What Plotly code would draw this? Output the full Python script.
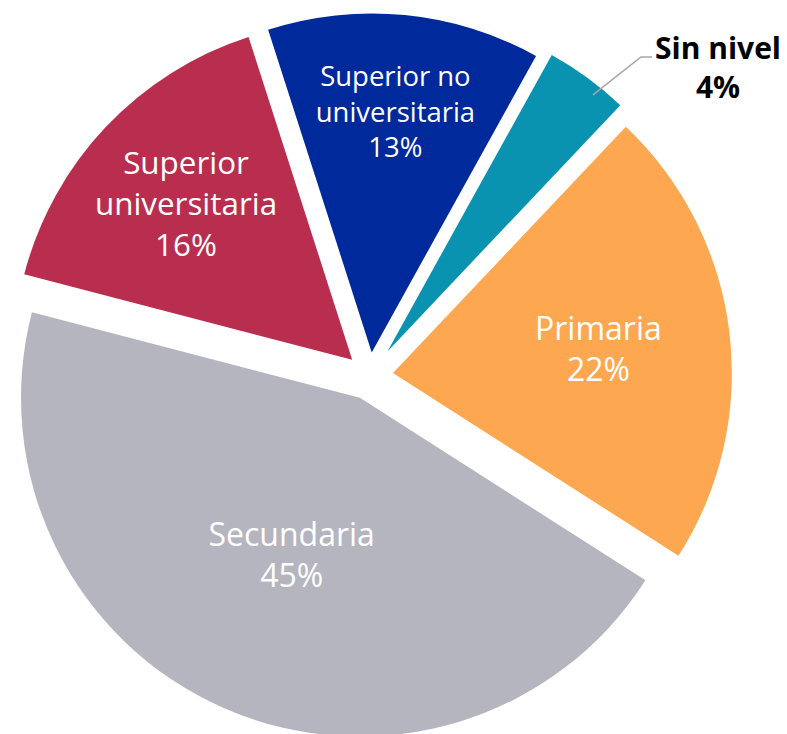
import math
import plotly.graph_objects as go

# datos
niveles = ["Sin nivel", "Primaria", "Secundaria", "Superior<br>universitaria", "Superior no<br>universitaria"]
porcentajes = [4, 22, 45, 16, 13]
colores = ["#0A93B0", "#FDA750", "#B5B5C0", "#B92E4F", "#00299B"]
separacion = [0.09, 0.07, 0.07, 0.07, 0.07]

W, H = 787, 752
dom_x = [0, 0.9388]
giro = 29

fig = go.Figure(go.Pie(
    labels=niveles,
    values=porcentajes,
    sort=False,
    direction="clockwise",
    rotation=giro,
    pull=separacion,
    marker=dict(colors=colores, line=dict(width=0)),
    textposition=["none", "inside", "inside", "inside", "inside"],
    texttemplate="%{label}<br>%{value}%",
    insidetextorientation="horizontal",
    insidetextfont=dict(family="Open Sans", size=32, color="white"),
    domain=dict(x=dom_x, y=[0, 1]),
    hoverinfo="label+percent",
))

# etiqueta externa de "Sin nivel" con línea guía (el texto outside encoge el pie)
R = min(W * (dom_x[1] - dom_x[0]), H) / 2 / (1 + max(separacion))
cx, cy = W * (dom_x[0] + dom_x[1]) / 2, H / 2
ang = math.radians(giro + 360 * porcentajes[0] / sum(porcentajes) / 2)
ox, oy = cx + separacion[0] * R * math.sin(ang), cy - separacion[0] * R * math.cos(ang)
ang2 = ang + math.radians(2.5)
px, py = ox + 0.97 * R * math.sin(ang2), oy - 0.97 * R * math.cos(ang2)

tx, ty = 718, 67   # centro del texto
codo = (641, 57)
fin = (652, 57)

fig.add_annotation(
    x=tx / W, y=1 - ty / H, xref="paper", yref="paper",
    xanchor="center", yanchor="middle",
    text="<b>%s<br>%d%%</b>" % (niveles[0], porcentajes[0]),
    showarrow=False,
    font=dict(family="Open Sans", size=30, color="black"),
)

def pp(x, y):
    return "%f,%f" % (x / W, 1 - y / H)

fig.add_shape(
    type="path", xref="paper", yref="paper",
    path="M %s L %s L %s" % (pp(px, py), pp(*codo), pp(*fin)),
    line=dict(color="#A6A6A6", width=1.5),
)

fig.update_layout(
    width=W, height=H,
    margin=dict(l=0, r=0, t=0, b=0),
    showlegend=False,
    paper_bgcolor="white",
    plot_bgcolor="white",
)

fig.write_html("out.html", config={"displayModeBar": False},
               post_script="document.body.style.margin='0';document.documentElement.style.overflow='hidden';document.body.style.overflow='hidden';")
